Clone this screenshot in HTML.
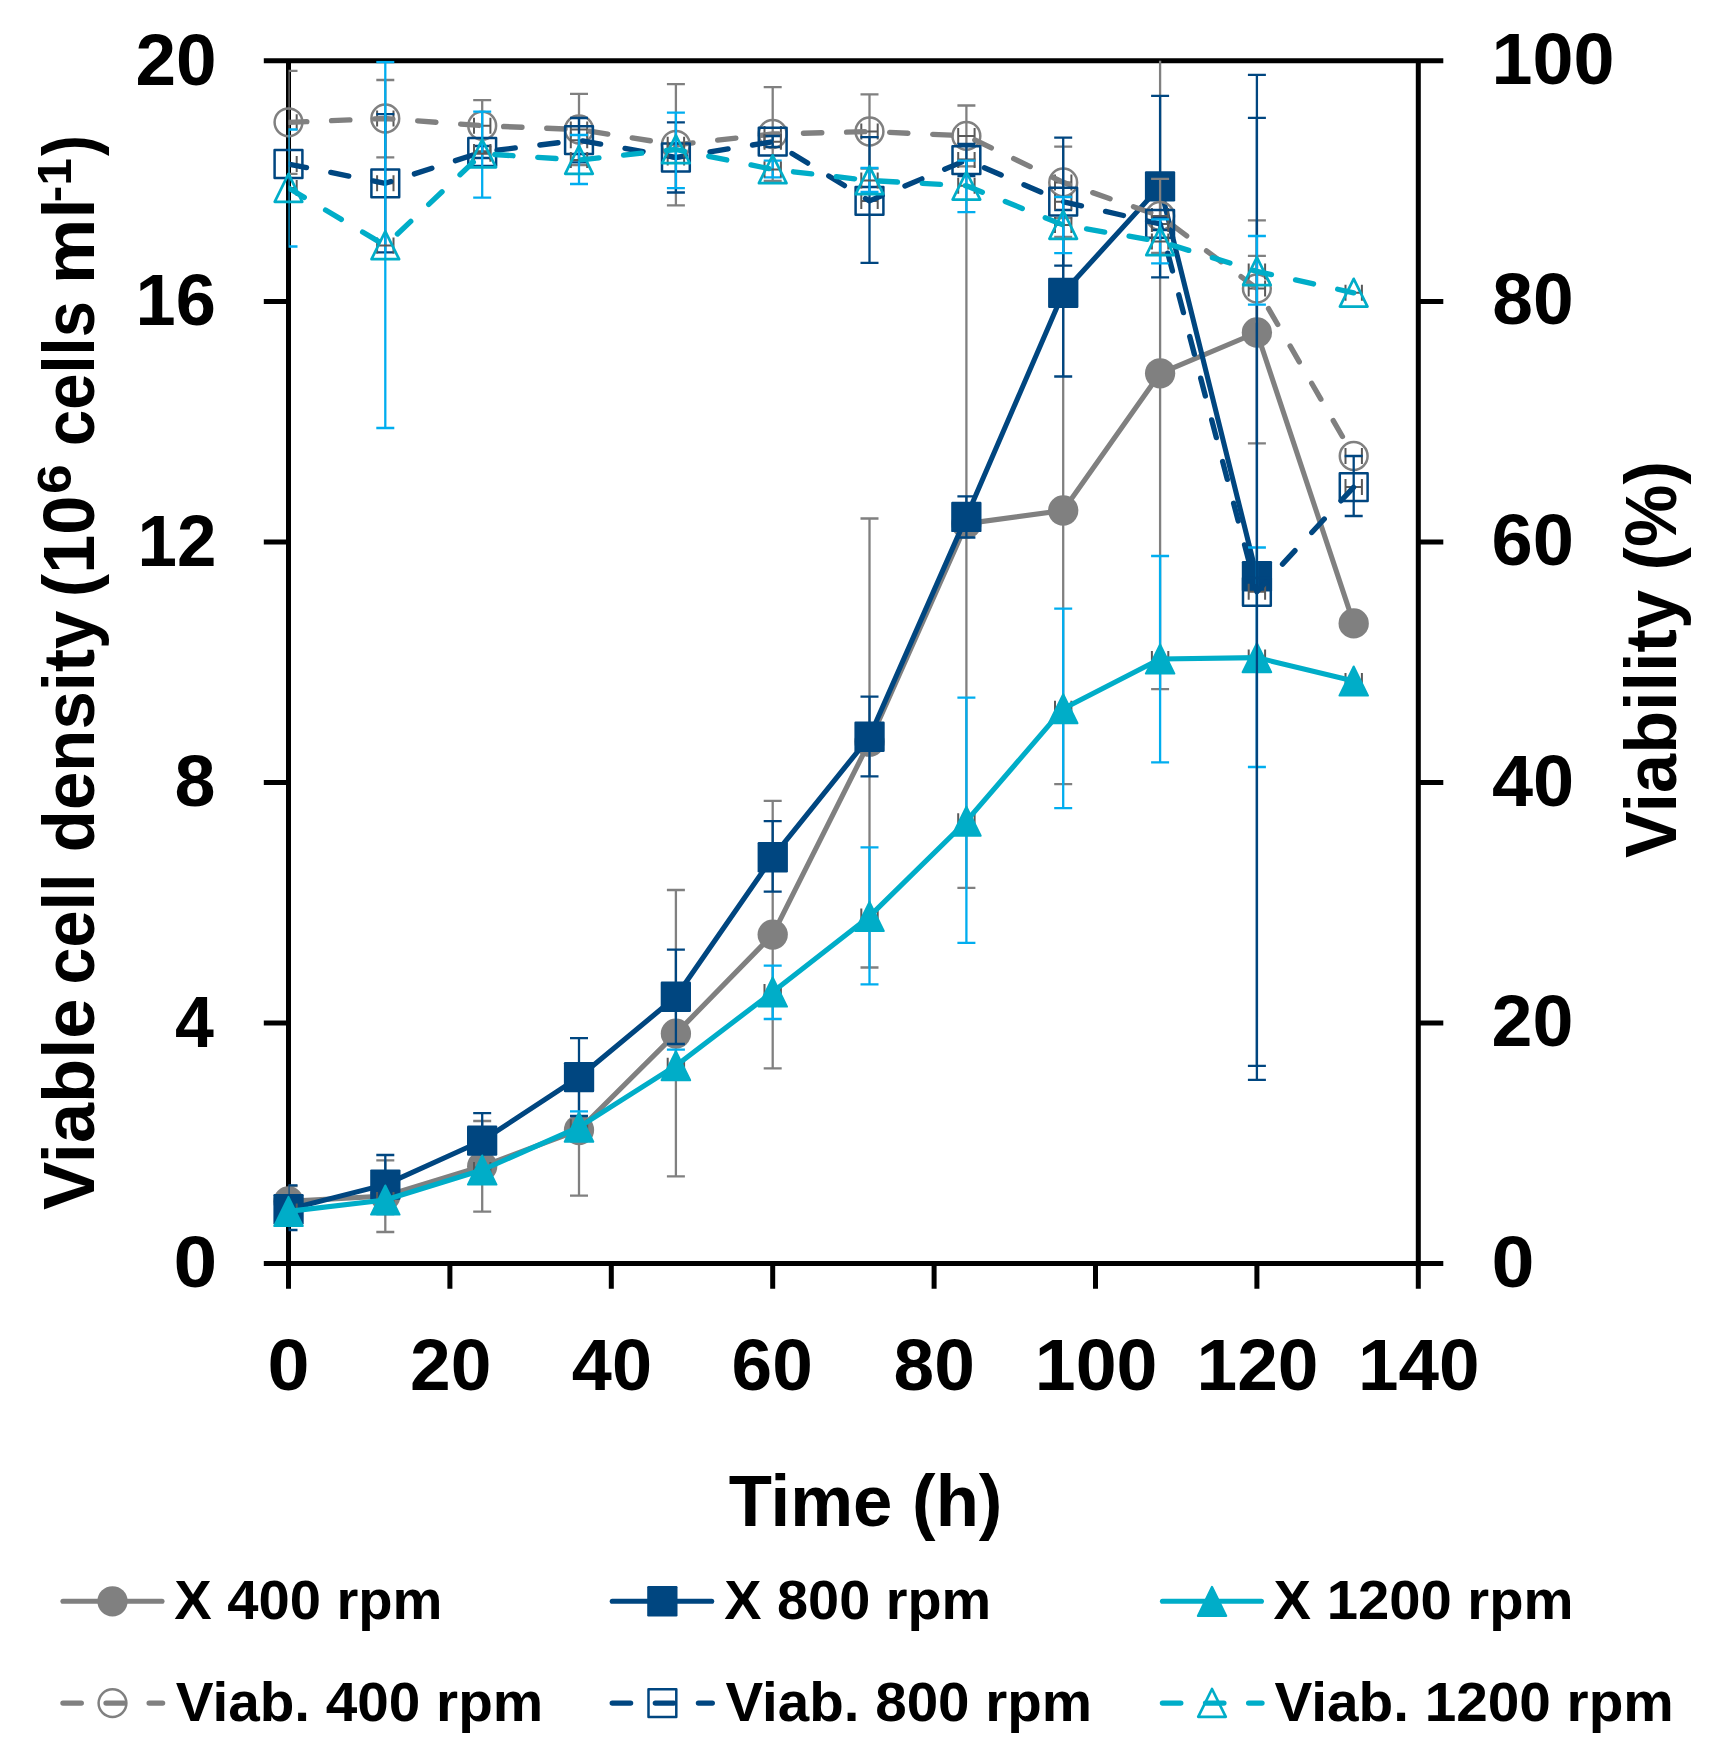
<!DOCTYPE html>
<html lang="en"><head><meta charset="utf-8"><title>Viable cell density and viability</title>
<style>html,body{margin:0;padding:0;background:#fff}svg{display:block}text{fill:#000}</style></head>
<body>
<svg width="1725" height="1763" viewBox="0 0 1725 1763" style="display:block">
<rect width="1725" height="1763" fill="#fff"/>
<defs><clipPath id="pa"><rect x="288.5" y="60.8" width="1129.8" height="1202.8"/></clipPath></defs>
<path d="M288.5 58.3V1288.8M1418.3 58.3V1288.8M263.8 60.8H1443.3M263.8 1263.6H1443.3M263.8 1023.0H288.5M1418.3 1023.0H1443.3M263.8 782.5H288.5M1418.3 782.5H1443.3M263.8 541.9H288.5M1418.3 541.9H1443.3M263.8 301.4H288.5M1418.3 301.4H1443.3M449.9 1263.6V1288.8M611.3 1263.6V1288.8M772.7 1263.6V1288.8M934.1 1263.6V1288.8M1095.5 1263.6V1288.8M1256.9 1263.6V1288.8" stroke="#000" stroke-width="5.0" fill="none"/>
<g clip-path="url(#pa)">
<path d="M288.5 1186.0V1217.0M279.5 1186.0h18.0M279.5 1217.0h18.0M385.3 1160.4V1232.0M376.3 1160.4h18.0M376.3 1232.0h18.0M482.2 1121.0V1211.6M473.2 1121.0h18.0M473.2 1211.6h18.0M579.0 1064.4V1195.6M570.0 1064.4h18.0M570.0 1195.6h18.0M675.9 890.0V1176.4M666.9 890.0h18.0M666.9 1176.4h18.0M772.7 800.9V1068.3M763.7 800.9h18.0M763.7 1068.3h18.0M869.5 518.5V967.5M860.5 518.5h18.0M860.5 967.5h18.0M966.4 159.3V887.9M957.4 159.3h18.0M957.4 887.9h18.0M1063.2 236.9V784.1M1054.2 236.9h18.0M1054.2 784.1h18.0M1160.1 57.0V689.2M1151.1 57.0h18.0M1151.1 689.2h18.0M1256.9 220.3V443.4M1247.9 220.3h18.0M1247.9 443.4h18.0" stroke="#808080" stroke-width="2.3" fill="none"/>
<path d="M280.3 1201.4h16.4M280.3 1193.4v16M296.7 1193.4v16M377.1 1196.0h16.4M377.1 1188.0v16M393.5 1188.0v16M474.0 1166.3h16.4M474.0 1158.3v16M490.4 1158.3v16M570.8 1130.0h16.4M570.8 1122.0v16M587.2 1122.0v16M667.7 1033.6h16.4M667.7 1025.6v16M684.1 1025.6v16M764.5 934.6h16.4M764.5 926.6v16M780.9 926.6v16M861.3 741.7h16.4M861.3 733.7v16M877.7 733.7v16M958.2 523.6h16.4M958.2 515.6v16M974.6 515.6v16M1055.0 510.5h16.4M1055.0 502.5v16M1071.4 502.5v16M1151.9 373.3h16.4M1151.9 365.3v16M1168.3 365.3v16M1248.7 332.5h16.4M1248.7 324.5v16M1265.1 324.5v16M1345.5 623.4h16.4M1345.5 615.4v16M1361.9 615.4v16" stroke="#595959" stroke-width="2" fill="none"/>
<polyline points="288.5,1201.4 385.3,1196.0 482.2,1166.3 579.0,1130.0 675.9,1033.6 772.7,934.6 869.5,741.7 966.4,523.6 1063.2,510.5 1160.1,373.3 1256.9,332.5 1353.7,623.4" stroke="#808080" fill="none" stroke-linejoin="round" stroke-width="5.1" stroke-linecap="round"/>
</g>
<circle cx="288.5" cy="1201.4" r="15.15" fill="#808080"/><circle cx="385.3" cy="1196.0" r="15.15" fill="#808080"/><circle cx="482.2" cy="1166.3" r="15.15" fill="#808080"/><circle cx="579.0" cy="1130.0" r="15.15" fill="#808080"/><circle cx="675.9" cy="1033.6" r="15.15" fill="#808080"/><circle cx="772.7" cy="934.6" r="15.15" fill="#808080"/><circle cx="869.5" cy="741.7" r="15.15" fill="#808080"/><circle cx="966.4" cy="523.6" r="15.15" fill="#808080"/><circle cx="1063.2" cy="510.5" r="15.15" fill="#808080"/><circle cx="1160.1" cy="373.3" r="15.15" fill="#808080"/><circle cx="1256.9" cy="332.5" r="15.15" fill="#808080"/><circle cx="1353.7" cy="623.4" r="15.15" fill="#808080"/>
<g clip-path="url(#pa)">
<path d="M288.5 1185.4V1230.0M279.5 1185.4h18.0M279.5 1230.0h18.0M385.3 1155.0V1214.0M376.3 1155.0h18.0M376.3 1214.0h18.0M482.2 1113.2V1168.0M473.2 1113.2h18.0M473.2 1168.0h18.0M579.0 1038.2V1116.0M570.0 1038.2h18.0M570.0 1116.0h18.0M675.9 949.6V1044.0M666.9 949.6h18.0M666.9 1044.0h18.0M772.7 821.1V891.7M763.7 821.1h18.0M763.7 891.7h18.0M869.5 696.6V776.4M860.5 696.6h18.0M860.5 776.4h18.0M966.4 496.3V537.5M957.4 496.3h18.0M957.4 537.5h18.0M1063.2 210.0V376.5M1054.2 210.0h18.0M1054.2 376.5h18.0M1160.1 95.8V277.4M1151.1 95.8h18.0M1151.1 277.4h18.0M1256.9 74.9V1079.8M1247.9 74.9h18.0M1247.9 1079.8h18.0" stroke="#004680" stroke-width="2.3" fill="none"/>
<path d="M280.3 1209.3h16.4M280.3 1201.3v16M296.7 1201.3v16M377.1 1184.6h16.4M377.1 1176.6v16M393.5 1176.6v16M474.0 1140.7h16.4M474.0 1132.7v16M490.4 1132.7v16M570.8 1077.2h16.4M570.8 1069.2v16M587.2 1069.2v16M667.7 996.8h16.4M667.7 988.8v16M684.1 988.8v16M764.5 857.2h16.4M764.5 849.2v16M780.9 849.2v16M861.3 736.8h16.4M861.3 728.8v16M877.7 728.8v16M958.2 516.9h16.4M958.2 508.9v16M974.6 508.9v16M1055.0 292.8h16.4M1055.0 284.8v16M1071.4 284.8v16M1151.9 186.4h16.4M1151.9 178.4v16M1168.3 178.4v16M1248.7 576.3h16.4M1248.7 568.3v16M1265.1 568.3v16" stroke="#595959" stroke-width="2" fill="none"/>
<polyline points="288.5,1209.3 385.3,1184.6 482.2,1140.7 579.0,1077.2 675.9,996.8 772.7,857.2 869.5,736.8 966.4,516.9 1063.2,292.8 1160.1,186.4 1256.9,576.3" stroke="#004680" fill="none" stroke-linejoin="round" stroke-width="5.1" stroke-linecap="round"/>
</g>
<rect x="273.4" y="1194.1" width="30.3" height="30.3" rx="1.2" fill="#004680"/><rect x="370.2" y="1169.4" width="30.3" height="30.3" rx="1.2" fill="#004680"/><rect x="467.0" y="1125.5" width="30.3" height="30.3" rx="1.2" fill="#004680"/><rect x="563.9" y="1062.0" width="30.3" height="30.3" rx="1.2" fill="#004680"/><rect x="660.7" y="981.6" width="30.3" height="30.3" rx="1.2" fill="#004680"/><rect x="757.6" y="842.1" width="30.3" height="30.3" rx="1.2" fill="#004680"/><rect x="854.4" y="721.6" width="30.3" height="30.3" rx="1.2" fill="#004680"/><rect x="951.2" y="501.8" width="30.3" height="30.3" rx="1.2" fill="#004680"/><rect x="1048.1" y="277.7" width="30.3" height="30.3" rx="1.2" fill="#004680"/><rect x="1144.9" y="171.2" width="30.3" height="30.3" rx="1.2" fill="#004680"/><rect x="1241.8" y="561.1" width="30.3" height="30.3" rx="1.2" fill="#004680"/>
<g clip-path="url(#pa)">
<path d="M579.0 1111.4V1140.0M570.0 1111.4h18.0M570.0 1140.0h18.0M675.9 1049.6V1079.0M666.9 1049.6h18.0M666.9 1079.0h18.0M772.7 965.7V1019.0M763.7 965.7h18.0M763.7 1019.0h18.0M869.5 847.3V984.3M860.5 847.3h18.0M860.5 984.3h18.0M966.4 697.6V942.8M957.4 697.6h18.0M957.4 942.8h18.0M1063.2 608.6V808.2M1054.2 608.6h18.0M1054.2 808.2h18.0M1160.1 556.0V762.4M1151.1 556.0h18.0M1151.1 762.4h18.0M1256.9 547.5V767.0M1247.9 547.5h18.0M1247.9 767.0h18.0" stroke="#00adef" stroke-width="2.3" fill="none"/>
<path d="M280.3 1211.4h16.4M280.3 1203.4v16M296.7 1203.4v16M377.1 1200.0h16.4M377.1 1192.0v16M393.5 1192.0v16M474.0 1170.0h16.4M474.0 1162.0v16M490.4 1162.0v16M570.8 1127.2h16.4M570.8 1119.2v16M587.2 1119.2v16M667.7 1065.7h16.4M667.7 1057.7v16M684.1 1057.7v16M764.5 992.0h16.4M764.5 984.0v16M780.9 984.0v16M861.3 916.4h16.4M861.3 908.4v16M877.7 908.4v16M958.2 821.2h16.4M958.2 813.2v16M974.6 813.2v16M1055.0 708.7h16.4M1055.0 700.7v16M1071.4 700.7v16M1151.9 659.0h16.4M1151.9 651.0v16M1168.3 651.0v16M1248.7 657.6h16.4M1248.7 649.6v16M1265.1 649.6v16M1345.5 681.0h16.4M1345.5 673.0v16M1361.9 673.0v16" stroke="#595959" stroke-width="2" fill="none"/>
<polyline points="288.5,1211.4 385.3,1200.0 482.2,1170.0 579.0,1127.2 675.9,1065.7 772.7,992.0 869.5,916.4 966.4,821.2 1063.2,708.7 1160.1,659.0 1256.9,657.6 1353.7,681.0" stroke="#00adc8" fill="none" stroke-linejoin="round" stroke-width="5.1" stroke-linecap="round"/>
</g>
<path d="M288.5 1196.9L302.8 1226.0H274.2Z" fill="#00adc8" stroke="#00adc8" stroke-width="2" stroke-linejoin="round"/><path d="M385.3 1185.5L399.6 1214.6H371.0Z" fill="#00adc8" stroke="#00adc8" stroke-width="2" stroke-linejoin="round"/><path d="M482.2 1155.5L496.5 1184.6H467.9Z" fill="#00adc8" stroke="#00adc8" stroke-width="2" stroke-linejoin="round"/><path d="M579.0 1112.7L593.3 1141.8H564.7Z" fill="#00adc8" stroke="#00adc8" stroke-width="2" stroke-linejoin="round"/><path d="M675.9 1051.2L690.2 1080.3H661.6Z" fill="#00adc8" stroke="#00adc8" stroke-width="2" stroke-linejoin="round"/><path d="M772.7 977.5L787.0 1006.6H758.4Z" fill="#00adc8" stroke="#00adc8" stroke-width="2" stroke-linejoin="round"/><path d="M869.5 901.9L883.8 931.0H855.2Z" fill="#00adc8" stroke="#00adc8" stroke-width="2" stroke-linejoin="round"/><path d="M966.4 806.7L980.7 835.8H952.1Z" fill="#00adc8" stroke="#00adc8" stroke-width="2" stroke-linejoin="round"/><path d="M1063.2 694.2L1077.5 723.3H1048.9Z" fill="#00adc8" stroke="#00adc8" stroke-width="2" stroke-linejoin="round"/><path d="M1160.1 644.5L1174.4 673.6H1145.8Z" fill="#00adc8" stroke="#00adc8" stroke-width="2" stroke-linejoin="round"/><path d="M1256.9 643.1L1271.2 672.2H1242.6Z" fill="#00adc8" stroke="#00adc8" stroke-width="2" stroke-linejoin="round"/><path d="M1353.7 666.5L1368.0 695.6H1339.4Z" fill="#00adc8" stroke="#00adc8" stroke-width="2" stroke-linejoin="round"/>
<g clip-path="url(#pa)">
<path d="M288.5 70.8V173.8M279.5 70.8h18.0M279.5 173.8h18.0M385.3 80.0V157.3M376.3 80.0h18.0M376.3 157.3h18.0M482.2 100.2V151.2M473.2 100.2h18.0M473.2 151.2h18.0M579.0 93.8V165.2M570.0 93.8h18.0M570.0 165.2h18.0M675.9 84.1V205.3M666.9 84.1h18.0M666.9 205.3h18.0M772.7 87.1V181.0M763.7 87.1h18.0M763.7 181.0h18.0M869.5 94.3V168.7M860.5 94.3h18.0M860.5 168.7h18.0M966.4 105.5V166.3M957.4 105.5h18.0M957.4 166.3h18.0M1063.2 146.6V218.2M1054.2 146.6h18.0M1054.2 218.2h18.0M1160.1 178.9V253.0M1151.1 178.9h18.0M1151.1 253.0h18.0M1256.9 255.8V321.5M1247.9 255.8h18.0M1247.9 321.5h18.0" stroke="#808080" stroke-width="2.3" fill="none"/>
<path d="M280.3 122.3h16.4M280.3 114.3v16M296.7 114.3v16M377.1 118.5h16.4M377.1 110.5v16M393.5 110.5v16M474.0 125.7h16.4M474.0 117.7v16M490.4 117.7v16M570.8 129.5h16.4M570.8 121.5v16M587.2 121.5v16M667.7 144.8h16.4M667.7 136.8v16M684.1 136.8v16M764.5 134.0h16.4M764.5 126.0v16M780.9 126.0v16M861.3 131.5h16.4M861.3 123.5v16M877.7 123.5v16M958.2 135.9h16.4M958.2 127.9v16M974.6 127.9v16M1055.0 182.4h16.4M1055.0 174.4v16M1071.4 174.4v16M1151.9 216.0h16.4M1151.9 208.0v16M1168.3 208.0v16M1248.7 288.5h16.4M1248.7 280.5v16M1265.1 280.5v16M1345.5 456.0h16.4M1345.5 448.0v16M1361.9 448.0v16" stroke="#595959" stroke-width="2" fill="none"/>
<polyline points="288.5,122.3 385.3,118.5 482.2,125.7 579.0,129.5 675.9,144.8 772.7,134.0 869.5,131.5 966.4,135.9 1063.2,182.4 1160.1,216.0 1256.9,288.5 1353.7,456.0" stroke="#808080" fill="none" stroke-linejoin="round" stroke-width="5.35" stroke-dasharray="18.35 24.75" stroke-linecap="round"/>
</g>
<circle cx="288.5" cy="122.3" r="13.9" fill="none" stroke="#808080" stroke-linejoin="round" stroke-width="2.5"/><circle cx="385.3" cy="118.5" r="13.9" fill="none" stroke="#808080" stroke-linejoin="round" stroke-width="2.5"/><circle cx="482.2" cy="125.7" r="13.9" fill="none" stroke="#808080" stroke-linejoin="round" stroke-width="2.5"/><circle cx="579.0" cy="129.5" r="13.9" fill="none" stroke="#808080" stroke-linejoin="round" stroke-width="2.5"/><circle cx="675.9" cy="144.8" r="13.9" fill="none" stroke="#808080" stroke-linejoin="round" stroke-width="2.5"/><circle cx="772.7" cy="134.0" r="13.9" fill="none" stroke="#808080" stroke-linejoin="round" stroke-width="2.5"/><circle cx="869.5" cy="131.5" r="13.9" fill="none" stroke="#808080" stroke-linejoin="round" stroke-width="2.5"/><circle cx="966.4" cy="135.9" r="13.9" fill="none" stroke="#808080" stroke-linejoin="round" stroke-width="2.5"/><circle cx="1063.2" cy="182.4" r="13.9" fill="none" stroke="#808080" stroke-linejoin="round" stroke-width="2.5"/><circle cx="1160.1" cy="216.0" r="13.9" fill="none" stroke="#808080" stroke-linejoin="round" stroke-width="2.5"/><circle cx="1256.9" cy="288.5" r="13.9" fill="none" stroke="#808080" stroke-linejoin="round" stroke-width="2.5"/><circle cx="1353.7" cy="456.0" r="13.9" fill="none" stroke="#808080" stroke-linejoin="round" stroke-width="2.5"/>
<g clip-path="url(#pa)">
<path d="M385.3 114.2V252.3M376.3 114.2h18.0M376.3 252.3h18.0M482.2 146.0V158.0M473.2 146.0h18.0M473.2 158.0h18.0M579.0 118.0V162.4M570.0 118.0h18.0M570.0 162.4h18.0M675.9 122.3V192.5M666.9 122.3h18.0M666.9 192.5h18.0M772.7 136.0V147.0M763.7 136.0h18.0M763.7 147.0h18.0M869.5 137.1V262.9M860.5 137.1h18.0M860.5 262.9h18.0M966.4 144.0V176.0M957.4 144.0h18.0M957.4 176.0h18.0M1063.2 137.7V265.7M1054.2 137.7h18.0M1054.2 265.7h18.0M1160.1 218.0V230.0M1151.1 218.0h18.0M1151.1 230.0h18.0M1256.9 117.8V1065.8M1247.9 117.8h18.0M1247.9 1065.8h18.0M1353.7 456.0V516.0M1344.7 456.0h18.0M1344.7 516.0h18.0" stroke="#004680" stroke-width="2.3" fill="none"/>
<path d="M280.3 164.0h16.4M280.3 156.0v16M296.7 156.0v16M377.1 183.3h16.4M377.1 175.3v16M393.5 175.3v16M474.0 152.0h16.4M474.0 144.0v16M490.4 144.0v16M570.8 140.2h16.4M570.8 132.2v16M587.2 132.2v16M667.7 157.5h16.4M667.7 149.5v16M684.1 149.5v16M764.5 141.7h16.4M764.5 133.7v16M780.9 133.7v16M861.3 200.9h16.4M861.3 192.9v16M877.7 192.9v16M958.2 160.1h16.4M958.2 152.1v16M974.6 152.1v16M1055.0 201.7h16.4M1055.0 193.7v16M1071.4 193.7v16M1151.9 223.9h16.4M1151.9 215.9v16M1168.3 215.9v16M1248.7 591.8h16.4M1248.7 583.8v16M1265.1 583.8v16M1345.5 487.1h16.4M1345.5 479.1v16M1361.9 479.1v16" stroke="#595959" stroke-width="2" fill="none"/>
<polyline points="288.5,164.0 385.3,183.3 482.2,152.0 579.0,140.2 675.9,157.5 772.7,141.7 869.5,200.9 966.4,160.1 1063.2,201.7 1160.1,223.9 1256.9,591.8 1353.7,487.1" stroke="#004680" fill="none" stroke-linejoin="round" stroke-width="5.35" stroke-dasharray="18.35 24.75" stroke-linecap="round"/>
</g>
<rect x="274.6" y="150.1" width="27.8" height="27.8" fill="none" stroke="#004680" stroke-linejoin="round" stroke-width="2.5"/><rect x="371.4" y="169.4" width="27.8" height="27.8" fill="none" stroke="#004680" stroke-linejoin="round" stroke-width="2.5"/><rect x="468.3" y="138.1" width="27.8" height="27.8" fill="none" stroke="#004680" stroke-linejoin="round" stroke-width="2.5"/><rect x="565.1" y="126.3" width="27.8" height="27.8" fill="none" stroke="#004680" stroke-linejoin="round" stroke-width="2.5"/><rect x="662.0" y="143.6" width="27.8" height="27.8" fill="none" stroke="#004680" stroke-linejoin="round" stroke-width="2.5"/><rect x="758.8" y="127.8" width="27.8" height="27.8" fill="none" stroke="#004680" stroke-linejoin="round" stroke-width="2.5"/><rect x="855.6" y="187.0" width="27.8" height="27.8" fill="none" stroke="#004680" stroke-linejoin="round" stroke-width="2.5"/><rect x="952.5" y="146.2" width="27.8" height="27.8" fill="none" stroke="#004680" stroke-linejoin="round" stroke-width="2.5"/><rect x="1049.3" y="187.8" width="27.8" height="27.8" fill="none" stroke="#004680" stroke-linejoin="round" stroke-width="2.5"/><rect x="1146.2" y="210.0" width="27.8" height="27.8" fill="none" stroke="#004680" stroke-linejoin="round" stroke-width="2.5"/><rect x="1243.0" y="577.9" width="27.8" height="27.8" fill="none" stroke="#004680" stroke-linejoin="round" stroke-width="2.5"/><rect x="1339.8" y="473.2" width="27.8" height="27.8" fill="none" stroke="#004680" stroke-linejoin="round" stroke-width="2.5"/>
<g clip-path="url(#pa)">
<path d="M288.5 129.5V246.5M279.5 129.5h18.0M279.5 246.5h18.0M385.3 62.0V428.0M376.3 62.0h18.0M376.3 428.0h18.0M482.2 111.6V197.6M473.2 111.6h18.0M473.2 197.6h18.0M579.0 135.0V184.0M570.0 135.0h18.0M570.0 184.0h18.0M675.9 112.7V188.2M666.9 112.7h18.0M666.9 188.2h18.0M772.7 160.6V177.4M763.7 160.6h18.0M763.7 177.4h18.0M869.5 168.0V192.0M860.5 168.0h18.0M860.5 192.0h18.0M966.4 160.6V212.1M957.4 160.6h18.0M957.4 212.1h18.0M1063.2 197.0V253.2M1054.2 197.0h18.0M1054.2 253.2h18.0M1160.1 219.3V263.4M1151.1 219.3h18.0M1151.1 263.4h18.0M1256.9 236.0V304.7M1247.9 236.0h18.0M1247.9 304.7h18.0" stroke="#00adef" stroke-width="2.3" fill="none"/>
<path d="M280.3 188.0h16.4M280.3 180.0v16M296.7 180.0v16M377.1 245.5h16.4M377.1 237.5v16M393.5 237.5v16M474.0 153.7h16.4M474.0 145.7v16M490.4 145.7v16M570.8 160.0h16.4M570.8 152.0v16M587.2 152.0v16M667.7 149.5h16.4M667.7 141.5v16M684.1 141.5v16M764.5 169.4h16.4M764.5 161.4v16M780.9 161.4v16M861.3 180.5h16.4M861.3 172.5v16M877.7 172.5v16M958.2 185.8h16.4M958.2 177.8v16M974.6 177.8v16M1055.0 225.0h16.4M1055.0 217.0v16M1071.4 217.0v16M1151.9 241.5h16.4M1151.9 233.5v16M1168.3 233.5v16M1248.7 271.4h16.4M1248.7 263.4v16M1265.1 263.4v16M1345.5 292.8h16.4M1345.5 284.8v16M1361.9 284.8v16" stroke="#595959" stroke-width="2" fill="none"/>
<polyline points="288.5,188.0 385.3,245.5 482.2,153.7 579.0,160.0 675.9,149.5 772.7,169.4 869.5,180.5 966.4,185.8 1063.2,225.0 1160.1,241.5 1256.9,271.4 1353.7,292.8" stroke="#00adc8" fill="none" stroke-linejoin="round" stroke-width="5.35" stroke-dasharray="18.35 24.75" stroke-linecap="round"/>
</g>
<path d="M288.5 173.9L302.3 201.8H274.7Z" fill="none" stroke="#00adc8" stroke-linejoin="round" stroke-width="2.7"/><path d="M385.3 231.4L399.1 259.2H371.5Z" fill="none" stroke="#00adc8" stroke-linejoin="round" stroke-width="2.7"/><path d="M482.2 139.6L496.0 167.4H468.4Z" fill="none" stroke="#00adc8" stroke-linejoin="round" stroke-width="2.7"/><path d="M579.0 145.9L592.8 173.8H565.2Z" fill="none" stroke="#00adc8" stroke-linejoin="round" stroke-width="2.7"/><path d="M675.9 135.4L689.7 163.2H662.1Z" fill="none" stroke="#00adc8" stroke-linejoin="round" stroke-width="2.7"/><path d="M772.7 155.3L786.5 183.2H758.9Z" fill="none" stroke="#00adc8" stroke-linejoin="round" stroke-width="2.7"/><path d="M869.5 166.4L883.3 194.2H855.7Z" fill="none" stroke="#00adc8" stroke-linejoin="round" stroke-width="2.7"/><path d="M966.4 171.8L980.2 199.6H952.6Z" fill="none" stroke="#00adc8" stroke-linejoin="round" stroke-width="2.7"/><path d="M1063.2 210.9L1077.0 238.8H1049.4Z" fill="none" stroke="#00adc8" stroke-linejoin="round" stroke-width="2.7"/><path d="M1160.1 227.4L1173.9 255.2H1146.3Z" fill="none" stroke="#00adc8" stroke-linejoin="round" stroke-width="2.7"/><path d="M1256.9 257.3L1270.7 285.1H1243.1Z" fill="none" stroke="#00adc8" stroke-linejoin="round" stroke-width="2.7"/><path d="M1353.7 278.8L1367.5 306.6H1339.9Z" fill="none" stroke="#00adc8" stroke-linejoin="round" stroke-width="2.7"/>
<text x="135.4" y="84.5" font-family="&apos;Liberation Sans&apos;, sans-serif" font-weight="bold" font-size="73" textLength="81.1" lengthAdjust="spacingAndGlyphs">20</text>
<text x="135.5" y="325.1" font-family="&apos;Liberation Sans&apos;, sans-serif" font-weight="bold" font-size="73" textLength="80.3" lengthAdjust="spacingAndGlyphs">16</text>
<text x="137.5" y="565.6" font-family="&apos;Liberation Sans&apos;, sans-serif" font-weight="bold" font-size="73" textLength="78.9" lengthAdjust="spacingAndGlyphs">12</text>
<text x="174.5" y="806.2" font-family="&apos;Liberation Sans&apos;, sans-serif" font-weight="bold" font-size="73" textLength="41.0" lengthAdjust="spacingAndGlyphs">8</text>
<text x="174.9" y="1046.7" font-family="&apos;Liberation Sans&apos;, sans-serif" font-weight="bold" font-size="73" textLength="38.9" lengthAdjust="spacingAndGlyphs">4</text>
<text x="173.5" y="1287.3" font-family="&apos;Liberation Sans&apos;, sans-serif" font-weight="bold" font-size="73" textLength="43.7" lengthAdjust="spacingAndGlyphs">0</text>
<text x="1491.5" y="83.8" font-family="&apos;Liberation Sans&apos;, sans-serif" font-weight="bold" font-size="73" textLength="123.0" lengthAdjust="spacingAndGlyphs">100</text>
<text x="1492.2" y="324.4" font-family="&apos;Liberation Sans&apos;, sans-serif" font-weight="bold" font-size="73" textLength="81.4" lengthAdjust="spacingAndGlyphs">80</text>
<text x="1491.5" y="564.9" font-family="&apos;Liberation Sans&apos;, sans-serif" font-weight="bold" font-size="73" textLength="82.4" lengthAdjust="spacingAndGlyphs">60</text>
<text x="1492.0" y="805.5" font-family="&apos;Liberation Sans&apos;, sans-serif" font-weight="bold" font-size="73" textLength="82.2" lengthAdjust="spacingAndGlyphs">40</text>
<text x="1491.5" y="1046.0" font-family="&apos;Liberation Sans&apos;, sans-serif" font-weight="bold" font-size="73" textLength="81.9" lengthAdjust="spacingAndGlyphs">20</text>
<text x="1491.5" y="1286.6" font-family="&apos;Liberation Sans&apos;, sans-serif" font-weight="bold" font-size="73" textLength="43.0" lengthAdjust="spacingAndGlyphs">0</text>
<text x="267.6" y="1389.5" font-family="&apos;Liberation Sans&apos;, sans-serif" font-weight="bold" font-size="73" textLength="42.0" lengthAdjust="spacingAndGlyphs">0</text>
<text x="410.0" y="1389.5" font-family="&apos;Liberation Sans&apos;, sans-serif" font-weight="bold" font-size="73" textLength="81.4" lengthAdjust="spacingAndGlyphs">20</text>
<text x="571.8" y="1389.5" font-family="&apos;Liberation Sans&apos;, sans-serif" font-weight="bold" font-size="73" textLength="80.2" lengthAdjust="spacingAndGlyphs">40</text>
<text x="731.6" y="1389.5" font-family="&apos;Liberation Sans&apos;, sans-serif" font-weight="bold" font-size="73" textLength="81.2" lengthAdjust="spacingAndGlyphs">60</text>
<text x="893.6" y="1389.5" font-family="&apos;Liberation Sans&apos;, sans-serif" font-weight="bold" font-size="73" textLength="81.3" lengthAdjust="spacingAndGlyphs">80</text>
<text x="1034.8" y="1389.5" font-family="&apos;Liberation Sans&apos;, sans-serif" font-weight="bold" font-size="73" textLength="122.6" lengthAdjust="spacingAndGlyphs">100</text>
<text x="1196.6" y="1389.5" font-family="&apos;Liberation Sans&apos;, sans-serif" font-weight="bold" font-size="73" textLength="121.9" lengthAdjust="spacingAndGlyphs">120</text>
<text x="1358.0" y="1389.5" font-family="&apos;Liberation Sans&apos;, sans-serif" font-weight="bold" font-size="73" textLength="121.6" lengthAdjust="spacingAndGlyphs">140</text>
<text x="728.7" y="1526.0" font-family="&apos;Liberation Sans&apos;, sans-serif" font-weight="bold" font-size="73" textLength="273.7" lengthAdjust="spacingAndGlyphs">Time (h)</text>
<text transform="translate(94.2 1209.0) rotate(-90)" x="-1.0" y="0" font-family="&apos;Liberation Sans&apos;, sans-serif" font-weight="bold" font-size="73" textLength="211.4" lengthAdjust="spacingAndGlyphs">Viable</text>
<text transform="translate(94.2 1209.0) rotate(-90)" x="224.6" y="0" font-family="&apos;Liberation Sans&apos;, sans-serif" font-weight="bold" font-size="73" textLength="110.8" lengthAdjust="spacingAndGlyphs">cell</text>
<text transform="translate(94.2 1209.0) rotate(-90)" x="356.8" y="0" font-family="&apos;Liberation Sans&apos;, sans-serif" font-weight="bold" font-size="73" textLength="241.5" lengthAdjust="spacingAndGlyphs">density</text>
<text transform="translate(94.2 1209.0) rotate(-90)" x="611.8" y="0" font-family="&apos;Liberation Sans&apos;, sans-serif" font-weight="bold" font-size="73" textLength="101.4" lengthAdjust="spacingAndGlyphs">(10</text>
<text transform="translate(70.8 1209.0) rotate(-90)" x="714.9" y="0" font-family="&apos;Liberation Sans&apos;, sans-serif" font-weight="bold" font-size="48" textLength="29.6" lengthAdjust="spacingAndGlyphs">6</text>
<text transform="translate(94.2 1209.0) rotate(-90)" x="762.9" y="0" font-family="&apos;Liberation Sans&apos;, sans-serif" font-weight="bold" font-size="73" textLength="145.1" lengthAdjust="spacingAndGlyphs">cells</text>
<text transform="translate(94.2 1209.0) rotate(-90)" x="924.7" y="0" font-family="&apos;Liberation Sans&apos;, sans-serif" font-weight="bold" font-size="73" textLength="86.2" lengthAdjust="spacingAndGlyphs">ml</text>
<text transform="translate(70.8 1209.0) rotate(-90)" x="1006.8" y="0" font-family="&apos;Liberation Sans&apos;, sans-serif" font-weight="bold" font-size="48" textLength="44.2" lengthAdjust="spacingAndGlyphs">-1</text>
<text transform="translate(94.2 1209.0) rotate(-90)" x="1052.9" y="0" font-family="&apos;Liberation Sans&apos;, sans-serif" font-weight="bold" font-size="73" textLength="20.9" lengthAdjust="spacingAndGlyphs">)</text>
<text transform="translate(1676.0 857.0) rotate(-90)" x="-1.0" y="0" font-family="&apos;Liberation Sans&apos;, sans-serif" font-weight="bold" font-size="73" textLength="396.8" lengthAdjust="spacingAndGlyphs">Viability (%)</text>
<path d="M62.95 1601.3H162.0" stroke="#808080" stroke-width="5.1" stroke-linecap="round"/>
<circle cx="112.5" cy="1601.3" r="15.15" fill="#808080"/>
<path d="M612.25 1601.3H711.7" stroke="#004680" stroke-width="5.1" stroke-linecap="round"/>
<rect x="647.2" y="1586.1" width="30.3" height="30.3" rx="1.2" fill="#004680"/>
<path d="M1162.45 1601.3H1261.4" stroke="#00adc8" stroke-width="5.1" stroke-linecap="round"/>
<path d="M1212.0 1586.8L1226.3 1615.9H1197.8Z" fill="#00adc8" stroke="#00adc8" stroke-width="2" stroke-linejoin="round"/>
<path d="M62.95 1703.1H162.6" stroke="#808080" stroke-width="5.35" stroke-dasharray="18.35 24.75" stroke-linecap="round"/>
<circle cx="112.5" cy="1703.1" r="13.9" fill="none" stroke="#808080" stroke-linejoin="round" stroke-width="2.5"/>
<path d="M612.25 1703.1H712.3" stroke="#004680" stroke-width="5.35" stroke-dasharray="18.35 24.75" stroke-linecap="round"/>
<rect x="648.5" y="1689.2" width="27.8" height="27.8" fill="none" stroke="#004680" stroke-linejoin="round" stroke-width="2.5"/>
<path d="M1162.45 1703.1H1262.0" stroke="#00adc8" stroke-width="5.35" stroke-dasharray="18.35 24.75" stroke-linecap="round"/>
<path d="M1212.0 1689.0L1225.8 1716.8H1198.2Z" fill="none" stroke="#00adc8" stroke-linejoin="round" stroke-width="2.7"/>
<text x="174.2" y="1619.3" font-family="&apos;Liberation Sans&apos;, sans-serif" font-weight="bold" font-size="55.5" textLength="268.3" lengthAdjust="spacingAndGlyphs">X 400 rpm</text>
<text x="724.3" y="1619.3" font-family="&apos;Liberation Sans&apos;, sans-serif" font-weight="bold" font-size="55.5" textLength="266.9" lengthAdjust="spacingAndGlyphs">X 800 rpm</text>
<text x="1273.6" y="1619.3" font-family="&apos;Liberation Sans&apos;, sans-serif" font-weight="bold" font-size="55.5" textLength="299.9" lengthAdjust="spacingAndGlyphs">X 1200 rpm</text>
<text x="175.7" y="1720.7" font-family="&apos;Liberation Sans&apos;, sans-serif" font-weight="bold" font-size="55.5" textLength="367.5" lengthAdjust="spacingAndGlyphs">Viab. 400 rpm</text>
<text x="725.4" y="1720.7" font-family="&apos;Liberation Sans&apos;, sans-serif" font-weight="bold" font-size="55.5" textLength="366.7" lengthAdjust="spacingAndGlyphs">Viab. 800 rpm</text>
<text x="1274.4" y="1720.7" font-family="&apos;Liberation Sans&apos;, sans-serif" font-weight="bold" font-size="55.5" textLength="399.4" lengthAdjust="spacingAndGlyphs">Viab. 1200 rpm</text>
</svg>
</body></html>
